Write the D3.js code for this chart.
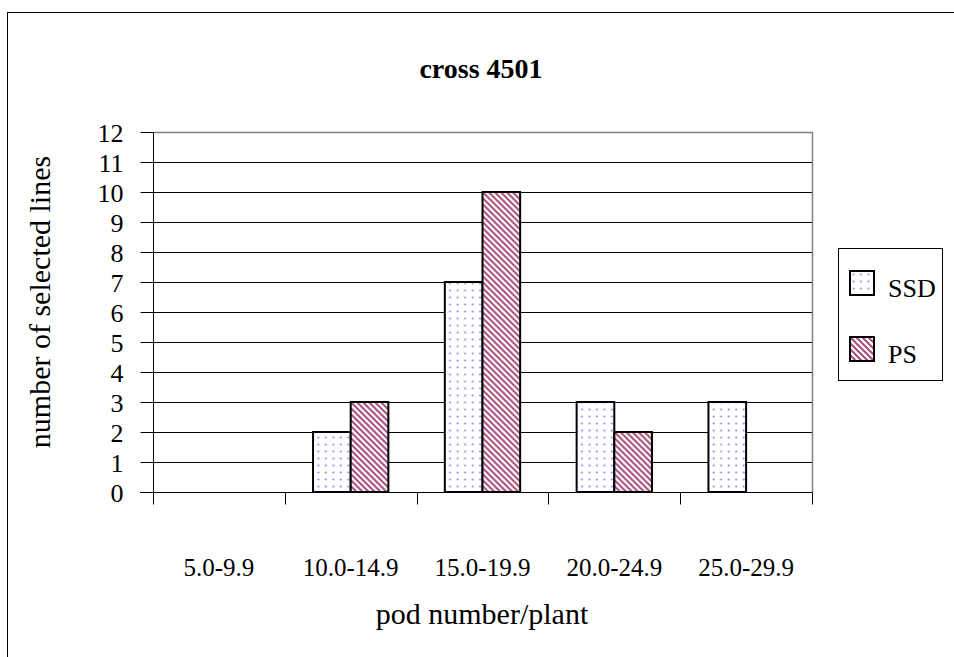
<!DOCTYPE html>
<html>
<head>
<meta charset="utf-8">
<script src="https://cdn.jsdelivr.net/npm/d3@7"></script>
<style>
  html, body { margin: 0; padding: 0; background: #fff; }
  svg { display: block; }
  text { font-family: "Liberation Serif", "Times New Roman", serif; fill: #000; }
</style>
</head>
<body>
<svg id="chart" width="954" height="657"></svg>
<script>
// Pod-number classes and counts of selected lines per selection method
const categories = ["5.0-9.9", "10.0-14.9", "15.0-19.9", "20.0-24.9", "25.0-29.9"];
const seriesNames = ["SSD", "PS"];
const ssdValues = [0, 2, 7, 3, 3];
const psValues = [0, 3, 10, 2, 0];
const yTicks = [0, 1, 2, 3, 4, 5, 6, 7, 8, 9, 10, 11, 12];

const serif = "Liberation Serif, Times New Roman, serif";
const svg = d3.select("#chart");

// fill patterns: sparse blue dots and maroon downward diagonal stripes
const defs = svg.append("defs");
const dots = defs.append("pattern")
  .attr("id", "dots").attr("patternUnits", "userSpaceOnUse")
  .attr("width", 7.5).attr("height", 7);
dots.append("rect").attr("width", 7.5).attr("height", 7).attr("fill", "#fff");
dots.append("circle").attr("cx", 3.5).attr("cy", 3.5).attr("r", 1.1).attr("fill", "#8c8cff");

const stripes = defs.append("pattern")
  .attr("id", "stripes").attr("patternUnits", "userSpaceOnUse")
  .attr("width", 6).attr("height", 6);
stripes.append("rect").attr("width", 6).attr("height", 6).attr("fill", "#fff");
stripes.append("path")
  .attr("d", "M-1,-1L7,7M-1,5L1,7M5,-1L7,1")
  .attr("stroke", "#a64d7a").attr("stroke-width", 2);

const fills = { SSD: "url(#dots)", PS: "url(#stripes)" };

// outer chart frame
svg.append("rect")
  .attr("x", 7.5).attr("y", 12.5).attr("width", 960).attr("height", 660)
  .attr("fill", "none").attr("stroke", "#000").attr("stroke-width", 1);

const plot = { left: 153, right: 812, top: 132, bottom: 492 };

const x0 = d3.scaleBand().domain(categories).range([plot.left, plot.right]).padding(0);
const x1 = d3.scaleBand().domain(seriesNames).range([0, x0.bandwidth()])
  .paddingInner(0).paddingOuter(0.75);
const y = d3.scaleLinear().domain([0, 12]).range([plot.bottom, plot.top]);

// gridlines
svg.append("g").selectAll("line").data(yTicks.filter(d => d > 0 && d < 12)).join("line")
  .attr("x1", plot.left).attr("x2", plot.right)
  .attr("y1", d => Math.round(y(d)) + 0.5).attr("y2", d => Math.round(y(d)) + 0.5)
  .attr("stroke", "#000").attr("stroke-width", 1);

// plot area border (top and right in grey)
svg.append("path")
  .attr("d", `M${plot.left},${plot.top + 0.5}H${plot.right + 0.5}V${plot.bottom}`)
  .attr("fill", "none").attr("stroke", "#808080").attr("stroke-width", 1.5);

// bars
const rows = categories.map((c, i) => ({ cat: c, values: [
  { key: "SSD", value: ssdValues[i] }, { key: "PS", value: psValues[i] }] }));

svg.append("g").selectAll("g").data(rows).join("g")
  .attr("transform", d => `translate(${x0(d.cat)},0)`)
  .selectAll("rect").data(d => d.values.filter(v => v.value > 0)).join("rect")
  .attr("x", d => x1(d.key))
  .attr("y", d => y(d.value))
  .attr("width", x1.bandwidth())
  .attr("height", d => y(0) - y(d.value))
  .attr("fill", d => fills[d.key])
  .attr("stroke", "#000").attr("stroke-width", 2);

// y axis
const yAxis = svg.append("g")
  .attr("transform", `translate(${plot.left + 0.5},0)`)
  .call(d3.axisLeft(y).tickValues(yTicks).tickFormat(d3.format("d")).tickSize(13).tickPadding(17));
yAxis.attr("font-family", serif);
yAxis.select(".domain").attr("d", `M0,${plot.top}V${plot.bottom + 12}`).attr("stroke", "#000");
yAxis.selectAll("text").attr("font-size", 26).attr("dy", "0.36em");

// x axis
const xAxis = svg.append("g").attr("transform", `translate(0,${plot.bottom + 0.5})`);
xAxis.append("line").attr("x1", plot.left - 13).attr("x2", plot.right + 0.5)
  .attr("stroke", "#000");
const bounds = categories.map(c => x0(c)).concat([plot.right]);
xAxis.selectAll("line.tick").data(bounds).join("line").attr("class", "tick")
  .attr("x1", d => Math.round(d) + 0.5).attr("x2", d => Math.round(d) + 0.5)
  .attr("y1", 0).attr("y2", 12).attr("stroke", "#000");
xAxis.selectAll("text").data(categories).join("text")
  .attr("x", d => x0(d) + x0.bandwidth() / 2)
  .attr("y", 83)
  .attr("text-anchor", "middle")
  .attr("font-size", 25)
  .text(d => d);

// titles
svg.append("text").attr("x", 481).attr("y", 78).attr("text-anchor", "middle")
  .attr("font-size", 28).attr("font-weight", "bold").text("cross 4501");
svg.append("text").attr("x", 482).attr("y", 624).attr("text-anchor", "middle")
  .attr("font-size", 30).text("pod number/plant");
svg.append("text").attr("transform", `translate(50,${(plot.top + plot.bottom) / 2 - 10}) rotate(-90)`)
  .attr("text-anchor", "middle").attr("font-size", 30).text("number of selected lines");

// legend
const legend = svg.append("g");
legend.append("rect").attr("x", 838.5).attr("y", 248.5).attr("width", 104).attr("height", 132)
  .attr("fill", "#fff").attr("stroke", "#000").attr("stroke-width", 1);
const items = legend.selectAll("g.item").data(seriesNames).join("g").attr("class", "item")
  .attr("transform", (d, i) => `translate(850,${271 + i * 66})`);
items.append("rect").attr("width", 24).attr("height", 24)
  .attr("fill", d => fills[d]).attr("stroke", "#000").attr("stroke-width", 2);
items.append("text").attr("x", 38).attr("y", 26).attr("font-size", 26).text(d => d);
</script>
</body>
</html>
